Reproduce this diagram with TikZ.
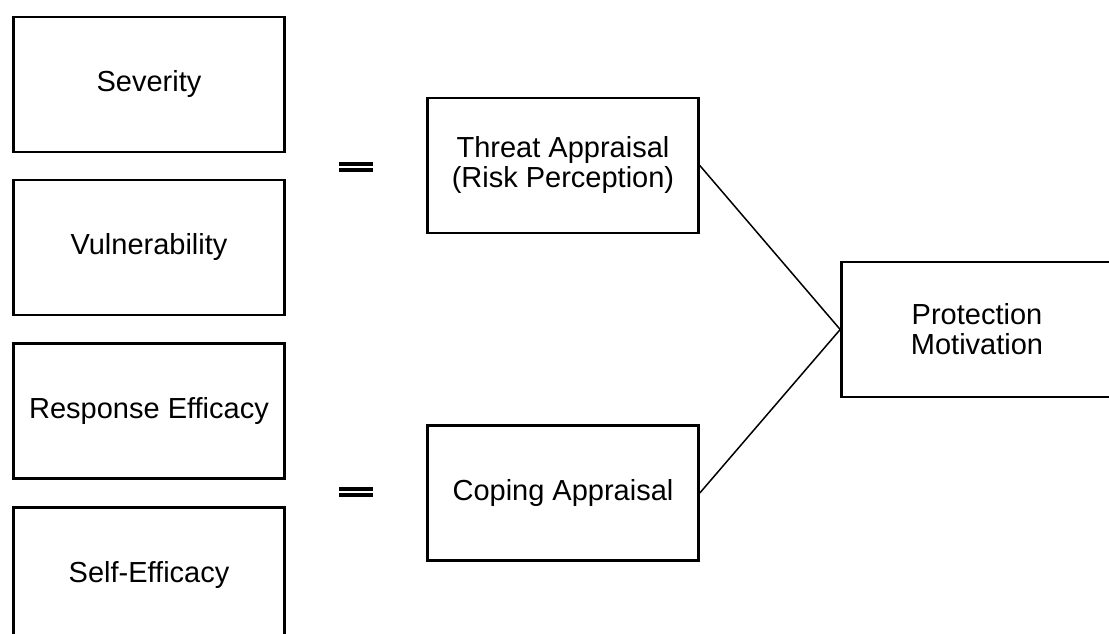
\documentclass[tikz,border=0pt]{standalone}
\usepackage{fontspec}
\setmainfont{Liberation Sans}
\begin{document}
\begin{tikzpicture}[x=1pt,y=-1pt,
  box/.style={draw=black,line width=2.6pt,minimum width=271pt,minimum height=135pt,inner sep=0pt,align=center,font=\fontsize{29}{30}\selectfont},
  link/.style={draw=black,line width=1.5pt},
  eqline/.style={draw=black,line width=4pt}]
\useasboundingbox (0,0) rectangle (1109,634);
\clip (0,0) rectangle (1109,634);
\node[box] (sev) at (149,84.5) {Severity};
\node[box] (vul) at (149,247.5) {Vulnerability};
\node[box] (res) at (149,411) {Response Efficacy};
\node[box] (self) at (149,575) {Self-Efficacy};
\node[box] (threat) at (563,165.5) {Threat Appraisal\\(Risk Perception)};
\node[box] (coping) at (563,493) {Coping Appraisal};
\node[box] (prot) at (977,329.5) {Protection\\Motivation};
\draw[link] (threat.east) -- (prot.west);
\draw[link] (coping.east) -- (prot.west);
\coordinate (e1a) at (339,164);
\coordinate (e1b) at (373,164);
\coordinate (e1c) at (339,170);
\coordinate (e1d) at (373,170);
\coordinate (e2a) at (339,489);
\coordinate (e2b) at (373,489);
\coordinate (e2c) at (339,495);
\coordinate (e2d) at (373,495);
\draw[eqline] (e1a) -- (e1b);
\draw[eqline] (e1c) -- (e1d);
\draw[eqline] (e2a) -- (e2b);
\draw[eqline] (e2c) -- (e2d);
\end{tikzpicture}
\end{document}
